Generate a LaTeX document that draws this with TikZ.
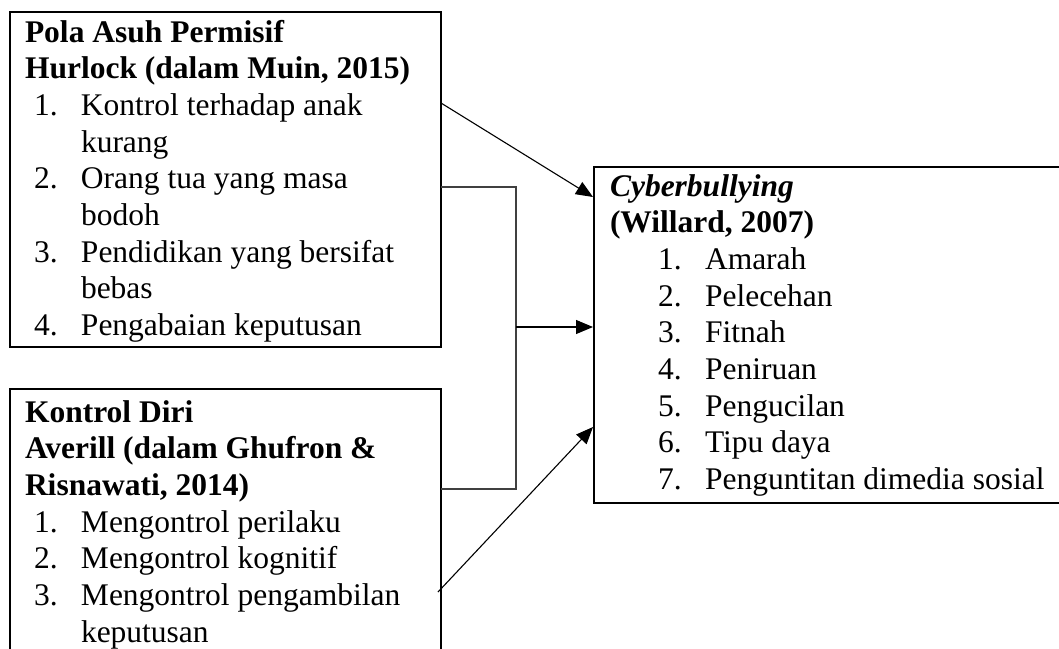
\documentclass[tikz,border=0pt]{standalone}
\usepackage{fontspec}
\setmainfont{Liberation Serif}
\usetikzlibrary{arrows.meta}
\newcommand{\itmA}[2]{\hspace*{9pt}\makebox[47pt][l]{#1}#2}
\newcommand{\contA}[1]{\hspace*{56pt}#1}
\newcommand{\itmB}[2]{\hspace*{48pt}\makebox[47pt][l]{#1}#2}
\begin{document}
\begin{tikzpicture}[x=1pt,y=-1pt,
  box/.style={draw=black, line width=2pt, anchor=north west, outer sep=0pt, inner sep=0pt},
  txt/.style={anchor=base west, inner sep=0pt, outer sep=0pt, font=\fontsize{31.5}{36.7}\selectfont},
  conn/.style={draw=black, line width=1.1pt},
  arr/.style={conn, -{Triangle[length=17pt,width=14pt]}},
  brk/.style={draw=black!75, line width=1.1pt}]
\useasboundingbox (0,0) rectangle (1059,648);
% boxes
\node[box, minimum width=431pt, minimum height=335pt] (pola) at (10,12) {};
\node[box, minimum width=431pt, minimum height=280pt] (kontrol) at (10,389) {};
\node[box, minimum width=470pt, minimum height=336pt] (cyber) at (594,167) {};
% texts
\node[txt] (polatxt) at (25,42) {\parbox[t]{420pt}{%
\textbf{Pola Asuh Permisif}\\
\textbf{Hurlock (dalam Muin, 2015)}\\
\itmA{1.}{Kontrol terhadap anak}\\
\contA{kurang}\\
\itmA{2.}{Orang tua yang masa}\\
\contA{bodoh}\\
\itmA{3.}{Pendidikan yang bersifat}\\
\contA{bebas}\\
\itmA{4.}{Pengabaian keputusan}}};
\node[txt] (kontroltxt) at (25,422) {\parbox[t]{420pt}{%
\textbf{Kontrol Diri}\\
\textbf{Averill (dalam Ghufron \&}\\
\textbf{Risnawati, 2014)}\\
\itmA{1.}{Mengontrol perilaku}\\
\itmA{2.}{Mengontrol kognitif}\\
\itmA{3.}{Mengontrol pengambilan}\\
\contA{keputusan}}};
\node[txt] (cybertxt) at (610,196) {\parbox[t]{460pt}{%
\textbf{\textit{Cyberbullying}}\\
\textbf{(Willard, 2007)}\\
\itmB{1.}{Amarah}\\
\itmB{2.}{Pelecehan}\\
\itmB{3.}{Fitnah}\\
\itmB{4.}{Peniruan}\\
\itmB{5.}{Pengucilan}\\
\itmB{6.}{Tipu daya}\\
\itmB{7.}{Penguntitan dimedia sosial}}};
% connector points
\coordinate (p1) at (441,103);
\coordinate (c1) at (593,197);
\coordinate (b1) at (441,187);
\coordinate (b2) at (516,187);
\coordinate (b3) at (516,489);
\coordinate (b4) at (441,489);
\coordinate (bm) at (516,327);
\coordinate (c2) at (593,327);
\coordinate (k1) at (438,592);
\coordinate (c3) at (593,427);
% connectors
\draw[arr] (p1) -- (c1);
\draw[brk] (b1) -- (b2) -- (b3) -- (b4);
\draw[arr] (bm) -- (c2);
\draw[arr] (k1) -- (c3);
\end{tikzpicture}
\end{document}
